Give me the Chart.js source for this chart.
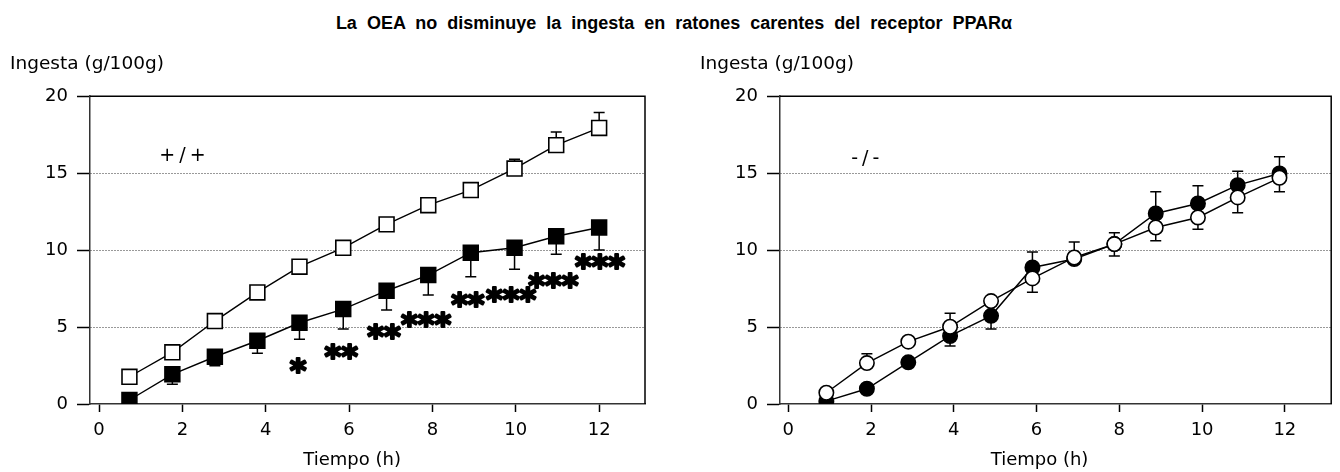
<!DOCTYPE html>
<html>
<head>
<meta charset="utf-8">
<script src="https://cdn.jsdelivr.net/npm/chart.js@4/dist/chart.umd.min.js"></script>
<style>
  html, body { margin: 0; padding: 0; background: #fff; }
  #wrap { position: relative; width: 1340px; height: 472px; overflow: hidden; background: #fff; }
  #title { position: absolute; left: 0; top: 13px; width: 1340px; text-align: center;
           font: bold 18px "Liberation Sans", Arial, sans-serif; word-spacing: 5px; color: #000; padding-left: 8px; box-sizing: border-box; }
  .pane { position: absolute; top: 0; width: 670px; height: 472px; }
</style>
</head>
<body>
<div id="wrap">
  <div id="title">La OEA no disminuye la ingesta en ratones carentes del receptor PPARα</div>
  <div class="pane" style="left:0"><canvas id="c1" width="670" height="472"></canvas></div>
  <div class="pane" style="left:670px"><canvas id="c2" width="670" height="472"></canvas></div>
</div>
<script>
// ---------- data ----------
// Left panel: +/+ mice
const timeWT        = [0.73, 1.76, 2.78, 3.80, 4.81, 5.86, 6.90, 7.90, 8.92, 9.97, 10.97, 12.00];
const wtVehicle     = [1.77, 3.36, 5.39, 7.25, 8.92, 10.15, 11.67, 12.92, 13.90, 15.30, 16.82, 17.94];
const wtVehicleErrUp= [0, 0, 0, 0, 0, 0, 0, 0, 0, 0.60, 0.85, 1.00];
const wtOEA         = [0.26, 1.93, 3.07, 4.11, 5.28, 6.17, 7.36, 8.38, 9.83, 10.15, 10.90, 11.47];
const wtOEAErrDown  = [0, 0.65, 0.58, 0.82, 1.08, 1.30, 1.26, 1.30, 1.56, 1.40, 1.17, 1.47];
// significance marks (left panel)
const sigX      = [4.78, 5.81, 6.84, 7.85, 8.85, 9.89, 10.90, 12.02];
const sigY      = [2.47, 3.39, 4.74, 5.49, 6.81, 7.12, 8.05, 9.25];
const sigLabels = ['*', '**', '**', '***', '**', '***', '***', '***'];

// Right panel: -/- mice
const timeKO          = [0.92, 1.90, 2.90, 3.91, 4.90, 5.90, 6.91, 7.88, 8.88, 9.90, 10.86, 11.87];
const koOEA           = [0.19, 0.99, 2.71, 4.42, 5.73, 8.87, 9.42, 10.39, 12.38, 13.03, 14.22, 14.98];
const koOEAErrUp      = [0, 0, 0, 0, 0, 1.00, 0, 0, 1.41, 1.15, 0.91, 1.08];
const koOEAErrDown    = [0, 0, 0, 0.65, 0.86, 0, 0, 0.78, 0, 0, 0, 0];
const koVehicle       = [0.73, 2.66, 4.05, 5.02, 6.69, 8.16, 9.52, 10.39, 11.47, 12.12, 13.42, 14.70];
const koVehicleErrUp  = [0, 0.60, 0, 0.87, 0, 0, 1.00, 0.73, 0, 0, 0, 0];
const koVehicleErrDown= [0, 0, 0, 0, 0, 0.90, 0, 0, 0.87, 0.76, 1.00, 0.91];

// axis / text labels
const yAxisLabel = 'Ingesta (g/100g)';
const xAxisLabel = 'Tiempo (h)';
const genotypeWT = '+/+';
const genotypeKO = '-/-';
const xTickValues = [0, 2, 4, 6, 8, 10, 12];
const yTickValues = [0, 5, 10, 15, 20];
const yGridValues = [5, 10, 15];

// ---------- helpers ----------
const FONT = 'DejaVu Sans';
const pts = (xs, ys) => xs.map((x, i) => ({ x: x, y: ys[i] }));

const errorBarsPlugin = {
  id: 'errorBars',
  beforeDatasetsDraw(chart) {
    const { ctx } = chart;
    const xs = chart.scales.x, ys = chart.scales.y;
    ctx.save();
    ctx.strokeStyle = '#000';
    ctx.lineWidth = 1.5;
    chart.data.datasets.forEach(ds => {
      ds.data.forEach((p, i) => {
        const px = xs.getPixelForValue(p.x);
        const draw = (e, sign) => {
          if (!e) return;
          const y0 = ys.getPixelForValue(p.y);
          const y1 = ys.getPixelForValue(p.y + sign * e);
          ctx.beginPath();
          ctx.moveTo(px, y0); ctx.lineTo(px, y1);
          ctx.moveTo(px - 5.5, y1); ctx.lineTo(px + 5.5, y1);
          ctx.stroke();
        };
        draw(ds.errUp ? ds.errUp[i] : 0, 1);
        draw(ds.errDown ? ds.errDown[i] : 0, -1);
      });
    });
    ctx.restore();
  }
};

const framePlugin = {
  id: 'frame',
  afterDraw(chart) {
    const { ctx, chartArea: a } = chart;
    ctx.save();
    ctx.strokeStyle = '#000';
    ctx.lineWidth = 1.5;
    ctx.beginPath();
    ctx.moveTo(a.left, a.top); ctx.lineTo(a.right, a.top); ctx.lineTo(a.right, a.bottom);
    ctx.stroke();
    ctx.restore();
  }
};

const textMarksPlugin = {
  id: 'textMarks',
  afterDatasetsDraw(chart, args, opts) {
    const { ctx } = chart;
    const xs = chart.scales.x, ys = chart.scales.y;
    ctx.save();
    (opts.items || []).forEach(it => {
      ctx.font = it.font;
      ctx.fillStyle = '#000';
      ctx.strokeStyle = '#000';
      ctx.lineJoin = 'round';
      ctx.textAlign = 'center';
      ctx.textBaseline = 'alphabetic';
      ctx.letterSpacing = it.spacing || '0px';
      const m = ctx.measureText(it.text);
      const px = xs.getPixelForValue(it.x);
      const py = ys.getPixelForValue(it.y);
      const mid = (m.actualBoundingBoxAscent - m.actualBoundingBoxDescent) / 2;
      ctx.fillText(it.text, px, py + mid);
      if (it.stroke) {
        ctx.lineWidth = it.stroke;
        ctx.strokeText(it.text, px, py + mid);
      }
    });
    ctx.restore();
  }
};

const xCaptionPlugin = {
  id: 'xCaption',
  afterDraw(chart, args, opts) {
    const { ctx, chartArea: a } = chart;
    const xs = chart.scales.x;
    const cx = (xs.getPixelForValue(xTickValues[0]) + xs.getPixelForValue(xTickValues[xTickValues.length - 1])) / 2;
    ctx.save();
    ctx.font = '18px "' + FONT + '"';
    ctx.fillStyle = '#000';
    ctx.textAlign = 'center';
    ctx.textBaseline = 'alphabetic';
    ctx.fillText(opts.text, cx + 3, a.bottom + 61);
    ctx.restore();
  }
};

function makeConfig(datasets, cfg) {
  return {
    type: 'line',
    data: { datasets: datasets },
    plugins: [errorBarsPlugin, framePlugin, textMarksPlugin, xCaptionPlugin],
    options: {
      responsive: false,
      animation: false,
      events: [],
      layout: { padding: { left: cfg.padLeft, right: cfg.padRight, top: 0, bottom: 0 } },
      plugins: {
        legend: { display: false },
        tooltip: { enabled: false },
        title: {
          display: true, text: yAxisLabel, align: 'start', color: '#000',
          font: { family: FONT, size: 18.5, weight: 'normal', lineHeight: 1.2 },
          padding: { top: 53, bottom: 21 }
        },
        textMarks: { items: cfg.marks },
        xCaption: { text: xAxisLabel }
      },
      scales: {
        x: {
          type: 'linear', min: cfg.xMin, max: cfg.xMax,
          afterFit(s) { s.height = 68; },
          afterBuildTicks(s) { s.ticks = xTickValues.map(v => ({ value: v })); },
          ticks: { font: { family: FONT, size: 18 }, color: '#000', padding: 8, maxRotation: 0, autoSkip: false },
          grid: { drawOnChartArea: false, tickLength: 8, tickColor: '#000', tickWidth: 1.5 },
          border: { color: '#333', width: 1.5 }
        },
        y: {
          type: 'linear', min: 0, max: 20,
          afterFit(s) { s.width = 80; },
          afterBuildTicks(s) { s.ticks = yTickValues.map(v => ({ value: v })); },
          ticks: { font: { family: FONT, size: 18 }, color: '#000', padding: 9 },
          grid: {
            color: c => (c.tick && yGridValues.includes(c.tick.value)) ? '#333' : 'rgba(0,0,0,0)',
            lineWidth: 1, tickLength: 13, tickColor: '#000', tickWidth: 1.5
          },
          border: { color: '#333', width: 1.5, dash: [1, 2] }
        }
      }
    }
  };
}

const lineBase = { showLine: true, tension: 0, borderColor: '#000', borderWidth: 1.4, pointBorderColor: '#000', pointBorderWidth: 1.6 };

// Left panel
new Chart(document.getElementById('c1'), makeConfig([
  Object.assign({}, lineBase, {
    label: 'Vehículo', data: pts(timeWT, wtVehicle), errUp: wtVehicleErrUp,
    pointStyle: 'rect', pointRadius: 10.5, pointBackgroundColor: '#fff', backgroundColor: '#fff'
  }),
  Object.assign({}, lineBase, {
    label: 'OEA', data: pts(timeWT, wtOEA), errDown: wtOEAErrDown,
    pointStyle: 'rect', pointRadius: 10.5, pointBackgroundColor: '#000', backgroundColor: '#000'
  })
], {
  padLeft: 10, padRight: 25, xMin: -0.216, xMax: 13.1,
  marks: [{ x: 2.05, y: 16.2, text: genotypeWT, font: '19px "' + FONT + '"', spacing: '4px' }]
    .concat(sigX.map((x, i) => ({ x: x, y: sigY[i], text: sigLabels[i], font: 'bold 32px "' + FONT + '"', stroke: 2.2 })))
}));

// Right panel
new Chart(document.getElementById('c2'), makeConfig([
  Object.assign({}, lineBase, {
    label: 'Vehículo', data: pts(timeKO, koVehicle), errUp: koVehicleErrUp, errDown: koVehicleErrDown,
    pointStyle: 'circle', pointRadius: 7.2, pointBackgroundColor: '#fff', backgroundColor: '#fff'
  }),
  Object.assign({}, lineBase, {
    label: 'OEA', data: pts(timeKO, koOEA), errUp: koOEAErrUp, errDown: koOEAErrDown,
    pointStyle: 'circle', pointRadius: 7.2, pointBackgroundColor: '#000', backgroundColor: '#000'
  })
], {
  padLeft: 30, padRight: 4, xMin: -0.2, xMax: 13.12,
  marks: [{ x: 1.91, y: 16.0, text: genotypeKO, font: '19px "' + FONT + '"', spacing: '4px' }]
}));
</script>
</body>
</html>
